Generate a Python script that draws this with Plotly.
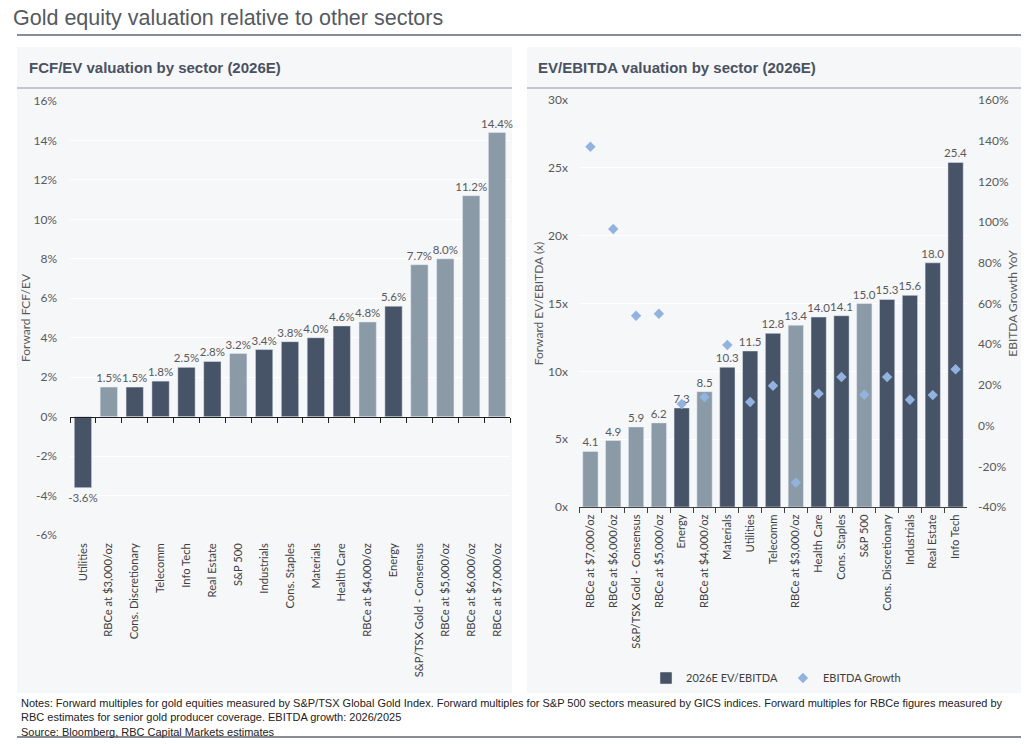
import plotly.graph_objects as go

# ---------------- data ----------------
fcf_categories = ["Utilities", "RBCe at $3,000/oz", "Cons. Discretionary", "Telecomm", "Info Tech",
                  "Real Estate", "S&P 500", "Industrials", "Cons. Staples", "Materials", "Health Care",
                  "RBCe at $4,000/oz", "Energy", "S&P/TSX Gold - Consensus", "RBCe at $5,000/oz",
                  "RBCe at $6,000/oz", "RBCe at $7,000/oz"]
fcf_values = [-3.6, 1.5, 1.5, 1.8, 2.5, 2.8, 3.2, 3.4, 3.8, 4.0, 4.6, 4.8, 5.6, 7.7, 8.0, 11.2, 14.4]
fcf_gold = [False, True, False, False, False, False, True, False, False, False, False, True, False,
            True, True, True, True]

ev_categories = ["RBCe at $7,000/oz", "RBCe at $6,000/oz", "S&P/TSX Gold - Consensus", "RBCe at $5,000/oz",
                 "Energy", "RBCe at $4,000/oz", "Materials", "Utilities", "Telecomm", "RBCe at $3,000/oz",
                 "Health Care", "Cons. Staples", "S&P 500", "Cons. Discretionary", "Industrials",
                 "Real Estate", "Info Tech"]
ev_values = [4.1, 4.9, 5.9, 6.2, 7.3, 8.5, 10.3, 11.5, 12.8, 13.4, 14.0, 14.1, 15.0, 15.3, 15.6, 18.0, 25.4]
ev_gold = [True, True, True, True, False, True, False, False, False, True, False, False, True,
           False, False, False, False]
ebitda_growth = [137, 96.6, 54, 55, 10.6, 14, 39.6, 11.6, 19.6, -28, 15.7, 23.9, 15.2, 23.9, 12.7, 15, 27.7]

fcf_ticks = [-6, -4, -2, 0, 2, 4, 6, 8, 10, 12, 14, 16]
ev_ticks = [0, 5, 10, 15, 20, 25, 30]
growth_ticks = [-40, -20, 0, 20, 40, 60, 80, 100, 120, 140, 160]

# ---------------- style ----------------
W, H = 1031, 744
DARK = "#475366"
LIGHT = "#8b9aa7"
DIAMOND = "#92b3df"
PANEL = "#f6f7f9"
TXT = "#595959"
CHART_FONT = "Lato, sans-serif"
TITLE_FONT = "Liberation Sans, Arial, sans-serif"


def px(v):
    return v / W


def py(v):
    return 1 - v / H


def split(vals, flags, want):
    return [v if f == want else None for v, f in zip(vals, flags)]


fig = go.Figure()

# ---- left chart bars ----
for want, col in [(False, DARK), (True, LIGHT)]:
    vals = split(fcf_values, fcf_gold, want)
    fig.add_trace(go.Bar(
        x=fcf_categories, y=vals, marker_color=col, xaxis="x", yaxis="y",
        text=[f"{v:.1f}%" if v is not None else "" for v in vals],
        textposition="outside", cliponaxis=False, constraintext="none",
        textfont=dict(family=CHART_FONT, size=11.5, color=TXT),
        showlegend=False, hoverinfo="x+y"))

# ---- right chart bars ----
for want, col, name, sl in [(False, DARK, "2026E EV/EBITDA", True), (True, LIGHT, "gold", False)]:
    vals = split(ev_values, ev_gold, want)
    fig.add_trace(go.Bar(
        x=ev_categories, y=vals, marker_color=col, xaxis="x2", yaxis="y2",
        text=[f"{v:.1f}" if v is not None else "" for v in vals],
        textposition="outside", cliponaxis=False, constraintext="none",
        textfont=dict(family=CHART_FONT, size=11.5, color=TXT),
        name=name, showlegend=sl, hoverinfo="x+y"))

fig.add_trace(go.Scatter(
    x=ev_categories, y=ebitda_growth, mode="markers", xaxis="x2", yaxis="y3",
    marker=dict(symbol="diamond", size=8, color=DIAMOND), name="EBITDA Growth"))

# ---------------- axes ----------------
L_DOM_X = [px(70), px(510)]
L_DOM_Y = [py(535), py(101)]
R_DOM_X = [px(579), px(967)]
R_DOM_Y = [py(507), py(100)]

tickfont = dict(family=CHART_FONT, size=12, color=TXT)
labelfont = dict(family=CHART_FONT, size=11.2, color="#404040")
titlefont = dict(family=CHART_FONT, size=12, color=TXT)

fcf_lo, fcf_hi = fcf_ticks[0], fcf_ticks[-1]
zero_pos = L_DOM_Y[0] + (L_DOM_Y[1] - L_DOM_Y[0]) * (0 - fcf_lo) / (fcf_hi - fcf_lo)
zero_to_bottom_px = (zero_pos - L_DOM_Y[0]) * H

fig.update_layout(
    xaxis=dict(domain=L_DOM_X, anchor="free", position=zero_pos, type="category", tickangle=-90,
               range=[-0.5, len(fcf_categories) - 0.5],
               showline=True, linecolor="#1f1f1f", linewidth=1.2, ticks="outside", tickson="boundaries",
               ticklen=5, tickcolor="#1f1f1f", tickfont=labelfont, showgrid=False, automargin=False,
               ticklabelstandoff=int(round(zero_to_bottom_px + 3))),
    yaxis=dict(domain=L_DOM_Y, anchor="x", range=[fcf_lo, fcf_hi], tickvals=fcf_ticks,
               ticktext=[f"{v}%" for v in fcf_ticks], tickfont=tickfont, showgrid=True,
               gridcolor="#ffffff", gridwidth=1, zeroline=False, ticklabelstandoff=12, automargin=False,
               title=dict(text="Forward FCF/EV", font=titlefont, standoff=0)),
    xaxis2=dict(domain=R_DOM_X, anchor="y2", type="category", tickangle=-90, showline=True,
                range=[-0.5, len(ev_categories) - 0.5],
                linecolor="#404040", linewidth=1, ticks="outside", tickson="boundaries", ticklen=5,
                tickcolor="#404040", tickfont=labelfont, showgrid=False, ticklabelstandoff=2,
                automargin=False),
    yaxis2=dict(domain=R_DOM_Y, anchor="x2", range=[ev_ticks[0], ev_ticks[-1]], tickvals=ev_ticks,
                ticktext=[f"{v}x" for v in ev_ticks], tickfont=tickfont, showgrid=True,
                gridcolor="#ffffff", zeroline=False, ticklabelstandoff=10, automargin=False,
                title=dict(text="Forward EV/EBITDA (x)", font=titlefont, standoff=1)),
    yaxis3=dict(domain=R_DOM_Y, anchor="x2", overlaying="y2", side="right",
                range=[growth_ticks[0], growth_ticks[-1]], tickvals=growth_ticks,
                ticktext=[f"{v}%" for v in growth_ticks], tickfont=tickfont, showgrid=False,
                zeroline=False, ticklabelstandoff=10, automargin=False,
                title=dict(text="EBITDA Growth YoY", font=titlefont, standoff=0)),
    barmode="overlay", bargap=0.33,
    width=W, height=H, margin=dict(l=0, r=0, t=0, b=0, pad=0, autoexpand=False),
    paper_bgcolor="white", plot_bgcolor="rgba(0,0,0,0)",
    legend=dict(orientation="h", x=px(776), xanchor="center", y=py(678), yanchor="middle",
                font=dict(family=CHART_FONT, size=11, color="#404040"), bgcolor="rgba(0,0,0,0)",
                itemwidth=30),
    font=dict(family=CHART_FONT),
)

# ---------------- decorations ----------------
shapes = [
    dict(type="rect", xref="paper", yref="paper", x0=px(17), x1=px(512), y0=py(693), y1=py(47),
         fillcolor=PANEL, line_width=0, layer="below"),
    dict(type="rect", xref="paper", yref="paper", x0=px(527), x1=px(1021), y0=py(693), y1=py(47),
         fillcolor=PANEL, line_width=0, layer="below"),
    dict(type="line", xref="paper", yref="paper", x0=px(17), x1=px(1021), y0=py(35), y1=py(35),
         line=dict(color="#5f6773", width=1.5)),
    dict(type="line", xref="paper", yref="paper", x0=px(17), x1=px(512), y0=py(88), y1=py(88),
         line=dict(color="#8f96a1", width=1)),
    dict(type="line", xref="paper", yref="paper", x0=px(527), x1=px(1021), y0=py(88), y1=py(88),
         line=dict(color="#8f96a1", width=1)),
    dict(type="line", xref="paper", yref="paper", x0=px(17), x1=px(1021), y0=py(737), y1=py(737),
         line=dict(color="#5f6773", width=1.5)),
]
fig.update_layout(shapes=shapes)

annotations = [
    dict(text="Gold equity valuation relative to other sectors", x=px(11), y=py(18), xref="paper",
         yref="paper", xanchor="left", yanchor="middle", showarrow=False,
         font=dict(family=TITLE_FONT, size=21.5, color="#555a60")),
    dict(text="<b>FCF/EV valuation by sector (2026E)</b>", x=px(27), y=py(67), xref="paper", yref="paper",
         xanchor="left", yanchor="middle", showarrow=False,
         font=dict(family=TITLE_FONT, size=15, color="#4a5262")),
    dict(text="<b>EV/EBITDA valuation by sector (2026E)</b>", x=px(536), y=py(67), xref="paper",
         yref="paper", xanchor="left", yanchor="middle", showarrow=False,
         font=dict(family=TITLE_FONT, size=15, color="#4a5262")),
    dict(text=("Notes: Forward multiples for gold equities measured by S&P/TSX Global Gold Index. Forward "
               "multiples for S&P 500 sectors measured by GICS indices. Forward multiples for RBCe figures "
               "measured by<br>RBC estimates for senior gold producer coverage. EBITDA growth: 2026/2025<br>"
               "Source: Bloomberg, RBC Capital Markets estimates"),
         x=px(19), y=py(695), xref="paper", yref="paper", xanchor="left", yanchor="top", align="left",
         showarrow=False, font=dict(family=TITLE_FONT, size=11, color="#222222")),
]
fig.update_layout(annotations=annotations)

fig.write_html(
    "out.html",
    config={"displayModeBar": False},
    post_script=("var gd=document.getElementById('{plot_id}');"
                 "gd.style.position='fixed';gd.style.top='0px';gd.style.left='0px';"
                 "document.body.style.margin='0';"
                 "document.documentElement.style.overflow='hidden';"),
)
